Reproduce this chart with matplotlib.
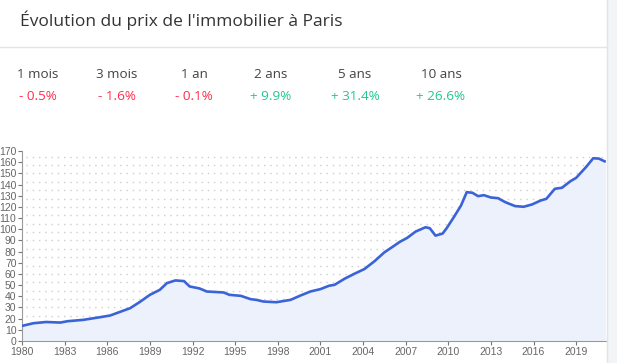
import matplotlib.pyplot as plt
import numpy as np

# price index
years = [1980.0, 1980.8, 1981.7, 1982.7, 1983.2, 1984.3, 1985.5, 1986.2, 1987.1, 1987.6,
         1988.3, 1989.0, 1989.7, 1990.2, 1990.8, 1991.4, 1991.8, 1992.5, 1993.0, 1994.2,
         1994.6, 1995.4, 1996.1, 1996.5, 1997.0, 1997.9, 1998.9, 1999.6, 2000.3, 2001.0,
         2001.6, 2002.0, 2002.7, 2003.4, 2004.1, 2004.8, 2005.5, 2006.2, 2006.6, 2007.1,
         2007.7, 2008.4, 2008.7, 2009.1, 2009.6, 2009.9, 2010.4, 2010.9, 2011.3, 2011.7,
         2012.1, 2012.5, 2013.0, 2013.5, 2014.0, 2014.7, 2015.3, 2015.9, 2016.5, 2016.9,
         2017.5, 2018.0, 2018.6, 2019.0, 2019.7, 2020.2, 2020.6, 2021.0]
index = [13.5, 15.9, 17.0, 16.5, 17.7, 18.9, 21.3, 22.8, 27.0, 29.3,
         35.0, 41.3, 45.8, 51.8, 54.2, 53.6, 48.8, 47.0, 44.3, 43.4,
         41.3, 40.4, 37.4, 36.8, 35.3, 34.7, 36.8, 40.7, 44.3, 46.4,
         49.4, 50.3, 55.7, 60.2, 64.4, 71.3, 79.3, 85.3, 88.8, 92.2,
         97.9, 101.8, 100.9, 94.3, 96.1, 101.2, 111.0, 121.3, 133.2, 132.6,
         129.6, 130.5, 128.4, 127.8, 124.3, 120.7, 120.1, 122.2, 125.7, 127.2,
         136.2, 137.1, 143.0, 146.0, 155.7, 163.5, 163.2, 160.8]

periods = ['1 mois', '3 mois', '1 an', '2 ans', '5 ans', '10 ans']
changes = ['- 0.5%', '- 1.6%', '- 0.1%', '+ 9.9%', '+ 31.4%', '+ 26.6%']
period_x = [38, 117, 194, 271, 355, 441]

W, H = 617, 363
fig = plt.figure(figsize=(W / 100, H / 100), dpi=100)
fig.patch.set_facecolor('white')

# grey side panel on the right
fig.patches.append(plt.Rectangle((607 / W, 0), 10 / W, 1, transform=fig.transFigure,
                                 facecolor='#f3f4f6', edgecolor='none'))
fig.add_artist(plt.Line2D([607 / W, 607 / W], [0, 1], transform=fig.transFigure,
                          color='#e2e3e6', lw=1))
# separator under title
fig.add_artist(plt.Line2D([0, 607 / W], [1 - 47 / H, 1 - 47 / H], transform=fig.transFigure,
                          color='#e4e4e4', lw=1))

fig.text(20 / W, 1 - 20 / H, "Évolution du prix de l'immobilier à Paris", fontsize=12.5,
         color='#333333', va='center', ha='left', family='Open Sans')

for px, p, c in zip(period_x, periods, changes):
    fig.text(px / W, 1 - 75 / H, p, fontsize=9.7, color='#444444', ha='center', va='center',
             family='Open Sans')
    col = '#ff2e4c' if c.startswith('-') else '#1fc98e'
    fig.text(px / W, 1 - 97 / H, c, fontsize=9.7, color=col, ha='center', va='center',
             family='Open Sans')

ax = fig.add_axes([22 / W, 1 - 341 / H, (606 - 22) / W, (341 - 151) / H])
ax.set_xlim(1980, 2021.1)
ax.set_ylim(0, 170)

for g in np.arange(7.5, 166, 7.5):
    ax.plot([1980.3, 2021.1], [g, g], color='#cdcdcd', lw=1, ls=(0, (1, 3.5)), zorder=1)

ax.fill_between(years, index, 0, color='#edf1fb', zorder=2)
ax.plot(years, index, color='#3b63d8', lw=1.9, zorder=3)

ax.set_yticks(np.arange(0, 171, 10))
ax.set_xticks(np.arange(1980, 2020, 3))
ax.tick_params(axis='both', labelsize=7.5, colors='#777777', length=3, width=0.8, pad=1)
for lab in ax.get_xticklabels() + ax.get_yticklabels():
    lab.set_family('Liberation Sans')
    lab.set_color('#666666')

for s in ['top', 'right']:
    ax.spines[s].set_visible(False)
for s in ['left', 'bottom']:
    ax.spines[s].set_color('#9a9a9a')
    ax.spines[s].set_linewidth(0.8)
ax.set_facecolor('none')

fig.savefig('out.png', dpi=100)
